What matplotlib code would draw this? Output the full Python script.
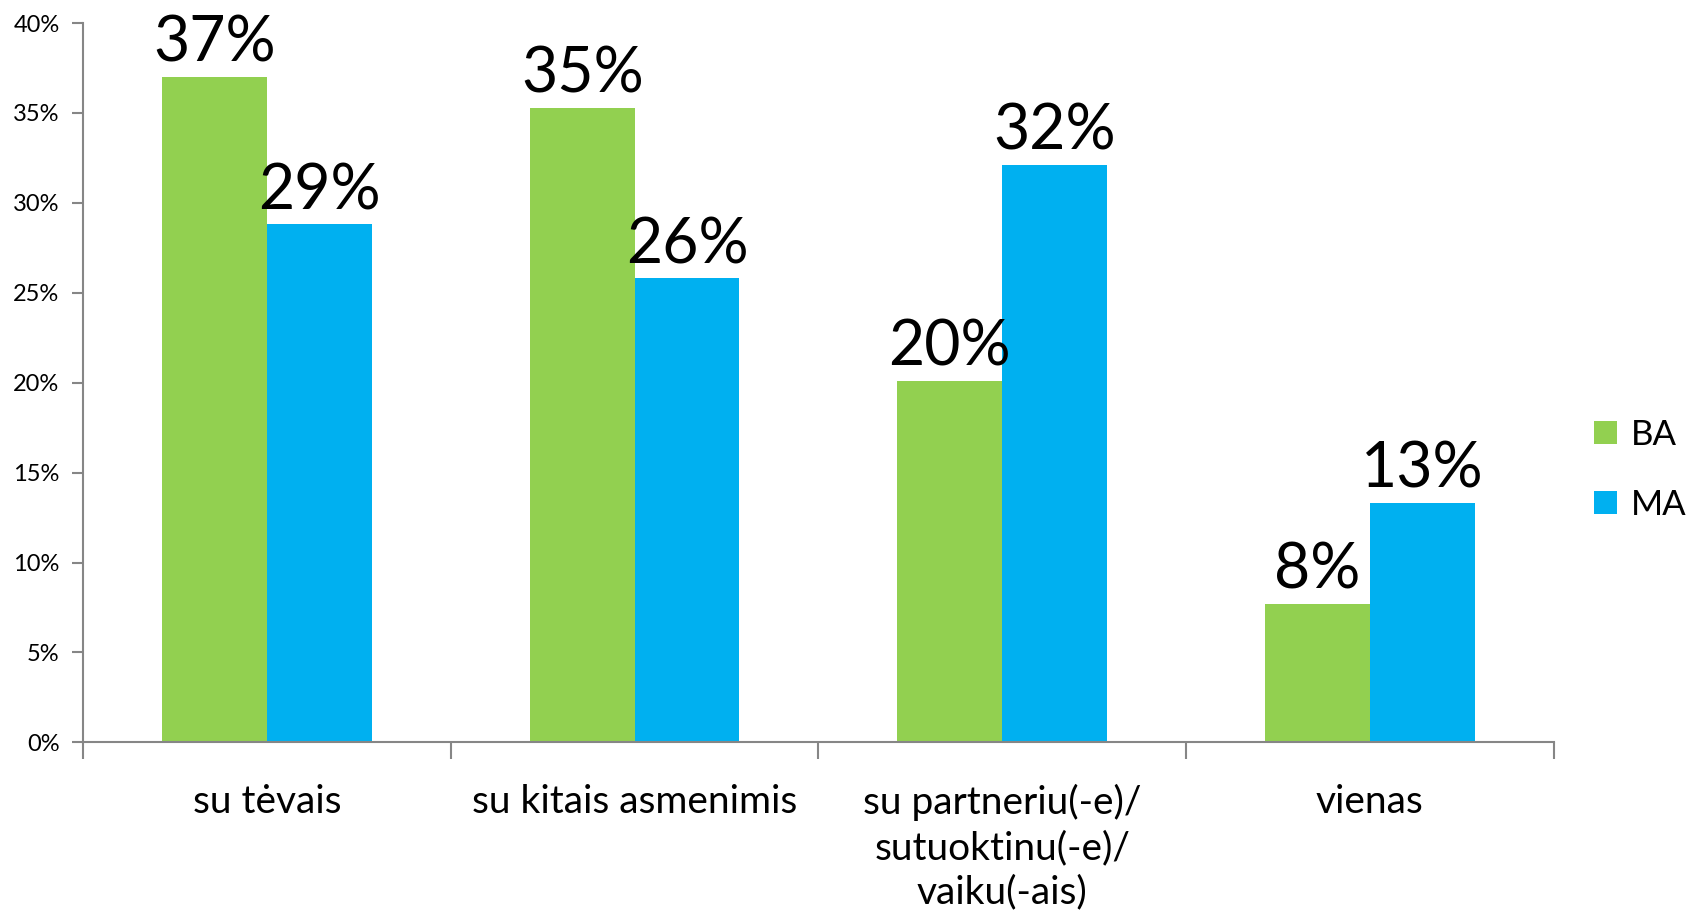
import matplotlib.pyplot as plt
import numpy as np

# duomenys
kategorijos = ["su tėvais", "su kitais asmenimis",
               "su partneriu(-e)/\nsutuoktinu(-e)/\nvaiku(-ais)", "vienas"]
ba = [37.0, 35.3, 20.1, 7.7]
ma = [28.8, 25.8, 32.1, 13.3]
ba_etiketes = ["37%", "35%", "20%", "8%"]
ma_etiketes = ["29%", "26%", "32%", "13%"]

plt.rcParams['font.family'] = ['Lato', 'DejaVu Sans']

fig = plt.figure(figsize=(16.98, 9.21), dpi=100)
ax = fig.add_axes([0.049, 0.194, 0.866, 0.781])

x = np.arange(len(kategorijos))
plotis = 0.285
b1 = ax.bar(x - plotis / 2, ba, plotis, color='#92D050', label='BA')
b2 = ax.bar(x + plotis / 2, ma, plotis, color='#00B0F0', label='MA')

for stulp, tekstas in zip(list(b1) + list(b2), ba_etiketes + ma_etiketes):
    ax.annotate(tekstas, (stulp.get_x() + stulp.get_width() / 2, stulp.get_height()),
                xytext=(0, 3), textcoords='offset points',
                ha='center', va='bottom', fontsize=45)

ax.set_xlim(-0.5, len(kategorijos) - 0.5)
ax.set_ylim(0, 40)
ax.set_yticks(range(0, 41, 5))
ax.set_yticklabels([f"{v}%" for v in range(0, 41, 5)], fontsize=17)

# padalos tarp kategoriju
ax.set_xticks(np.arange(-0.5, len(kategorijos), 1))
ax.set_xticklabels([])
ax.set_xticks(x, minor=True)
ax.set_xticklabels(kategorijos, minor=True, fontsize=28, linespacing=1.3)
ax.tick_params(axis='x', which='major', length=12, color='#868686', width=1.5)
ax.tick_params(axis='x', which='minor', length=0, pad=30)
ax.tick_params(axis='y', length=8, color='#868686', width=1.5, pad=9)

for s in ['top', 'right']:
    ax.spines[s].set_visible(False)
for s in ['left', 'bottom']:
    ax.spines[s].set_color('#868686')
    ax.spines[s].set_linewidth(1.5)

ax.legend(loc='center left', bbox_to_anchor=(0.939, 0.49), bbox_transform=fig.transFigure,
          frameon=False, fontsize=25, handlelength=0.65, handleheight=0.65,
          handletextpad=0.4, labelspacing=1.1, borderaxespad=0, borderpad=0)

plt.savefig("out.png", dpi=100)
